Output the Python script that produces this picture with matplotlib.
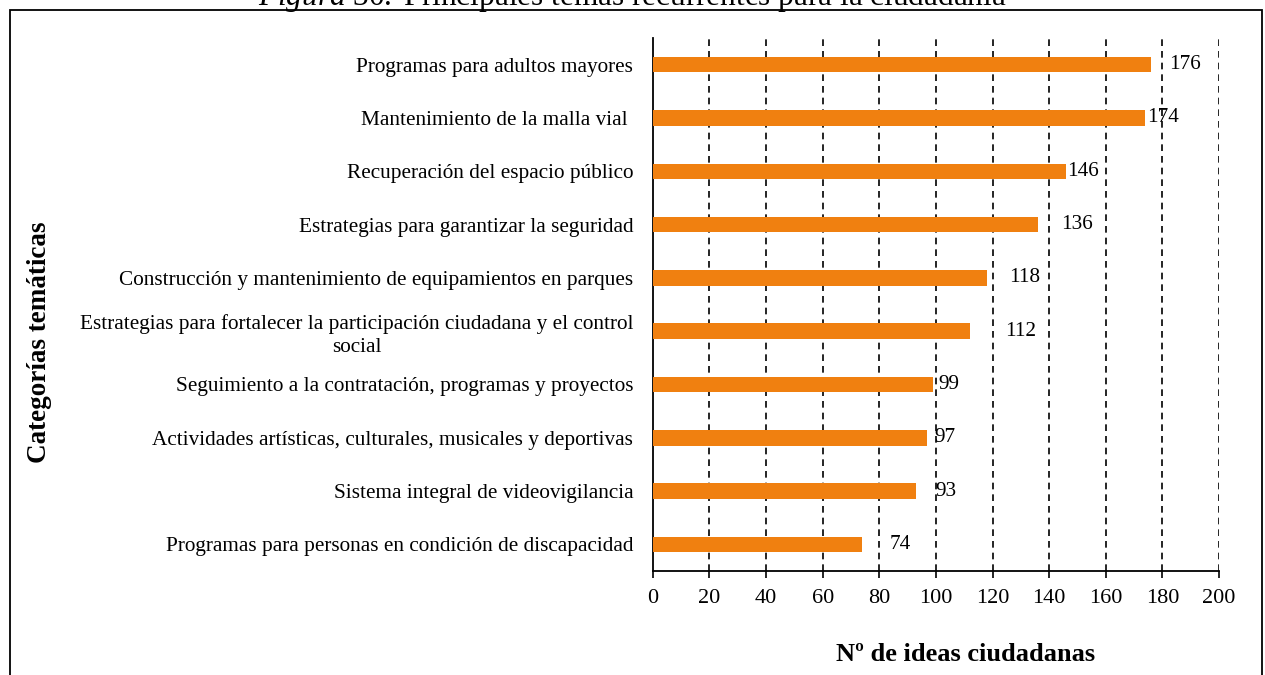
import matplotlib.pyplot as plt
from matplotlib.patches import Rectangle

plt.rcParams['font.family'] = ['Liberation Serif', 'DejaVu Serif']
plt.rcParams['mathtext.fontset'] = 'custom'
plt.rcParams['mathtext.rm'] = 'Liberation Serif'
plt.rcParams['mathtext.it'] = 'Liberation Serif:italic'

categorias = [
    "Programas para adultos mayores",
    "Mantenimiento de la malla vial ",
    "Recuperación del espacio público",
    "Estrategias para garantizar la seguridad",
    "Construcción y mantenimiento de equipamientos en parques",
    "Estrategias para fortalecer la participación ciudadana y el control\nsocial",
    "Seguimiento a la contratación, programas y proyectos",
    "Actividades artísticas, culturales, musicales y deportivas",
    "Sistema integral de videovigilancia",
    "Programas para personas en condición de discapacidad",
]
ideas = [176, 174, 146, 136, 118, 112, 99, 97, 93, 74]
xticks = [0, 20, 40, 60, 80, 100, 120, 140, 160, 180, 200]

# desplazamiento de cada etiqueta (pt), como en el original de Excel
label_dx = [13, 1, 1, 17, 16, 25, 4, 5, 14, 20]

naranja = "#f08010"
fs = 15.3

fig = plt.figure(figsize=(12.65, 6.75), dpi=100)
ax = fig.add_axes([0.516, 0.154, 0.4477, 0.7897])

ypos = list(range(len(categorias)))
ax.barh(ypos, ideas, height=0.29, color=naranja, zorder=3)
ax.set_ylim(len(categorias) - 0.5, -0.5)
ax.set_xlim(0, 200)
ax.set_yticks(ypos)
ax.set_yticklabels(categorias, fontsize=fs, multialignment="center", linespacing=1.3)
ax.tick_params(axis="y", length=0, pad=14)
ax.set_xticks(xticks)
ax.set_xticklabels([str(t) for t in xticks], fontsize=16)
ax.tick_params(axis="x", direction="out", length=5, width=1.2, pad=8)

for t in xticks[1:]:
    ax.axvline(t, color="black", ls=(0, (4, 3)), lw=1.2, zorder=1)

for sp in ["top", "right"]:
    ax.spines[sp].set_visible(False)
ax.spines["left"].set_linewidth(1.3)
ax.spines["bottom"].set_linewidth(1.3)

for y, v, dx in zip(ypos, ideas, label_dx):
    ax.annotate(str(v), (v, y), xytext=(dx, 0), textcoords="offset points",
                va="center", ha="left", fontsize=fs, zorder=4)

fig.text(0.031, 0.493, "Categorías temáticas", rotation=90, fontsize=19.5,
         fontweight="bold", ha="center", va="center")
fig.text(0.763, 0.030, "Nº de ideas ciudadanas", fontsize=19,
         fontweight="bold", ha="center", va="center")

# recuadro del documento y título cortado arriba
fig.patches.append(Rectangle((10 / 1265, -0.05), 1252 / 1265, 1.05 - 10 / 675,
                             transform=fig.transFigure, fill=False,
                             edgecolor="black", lw=1.3))
fig.text(0.5, 1 - 5 / 675, "$\\it{Figura\\ 30.}$ Principales temas recurrentes para la ciudadanía",
         fontsize=22.5, ha="center", va="baseline")

fig.savefig("out.png", dpi=100)
